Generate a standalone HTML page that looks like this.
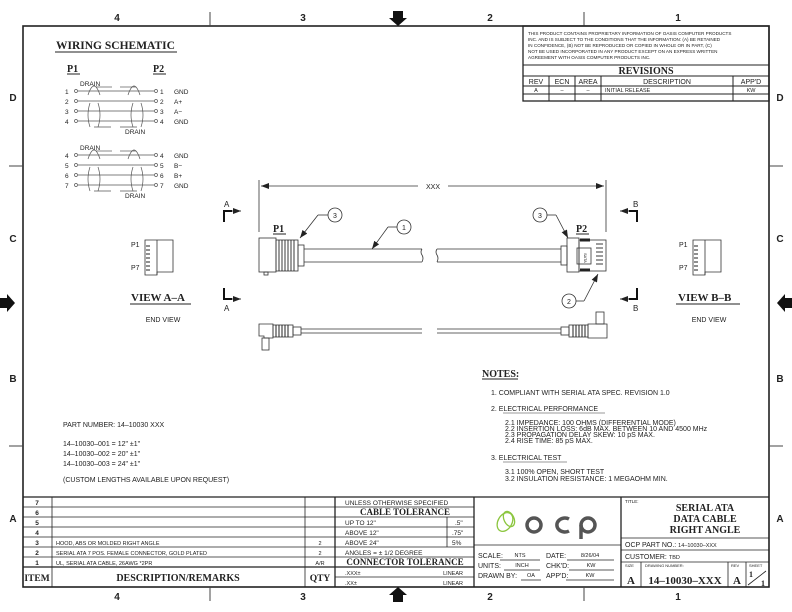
<!DOCTYPE html>
<html><head><meta charset="utf-8"><style>
html,body{margin:0;padding:0;background:#fff}
svg{display:block}
text{font-family:"Liberation Sans",sans-serif;fill:#222}
.s,.s text{font-family:"Liberation Serif",serif;font-weight:bold}
</style></head><body>
<svg width="792" height="612" viewBox="0 0 792 612" xmlns="http://www.w3.org/2000/svg">
<defs>
<marker id="ar" markerWidth="8" markerHeight="6" refX="8" refY="3" orient="auto" markerUnits="userSpaceOnUse"><path d="M0,0 L8,3 L0,6z" fill="#222"/></marker>
</defs>
<rect width="792" height="612" fill="#fff"/>
<rect x="23" y="26" width="746" height="561" fill="none" stroke="#222" stroke-width="1.6"/>
<g stroke="#444" stroke-width="1">
<line x1="210" y1="12" x2="210" y2="26"/><line x1="584" y1="12" x2="584" y2="26"/>
<line x1="210" y1="587" x2="210" y2="601"/><line x1="584" y1="587" x2="584" y2="601"/>
<line x1="9" y1="166" x2="23" y2="166"/><line x1="9" y1="446" x2="23" y2="446"/>
<line x1="769" y1="166" x2="783" y2="166"/><line x1="769" y1="446" x2="783" y2="446"/>
</g>
<g font-size="10" font-weight="bold" text-anchor="middle">
<text x="117" y="21">4</text><text x="303" y="21">3</text><text x="490" y="21">2</text><text x="678" y="21">1</text>
<text x="117" y="600">4</text><text x="303" y="600">3</text><text x="490" y="600">2</text><text x="678" y="600">1</text>
<text x="13" y="101">D</text><text x="13" y="242">C</text><text x="13" y="382">B</text><text x="13" y="522">A</text>
<text x="780" y="101">D</text><text x="780" y="242">C</text><text x="780" y="382">B</text><text x="780" y="522">A</text>
</g>
<path d="M393,11h10v7h4l-9,8l-9,-8h4z" fill="#111"/>
<path d="M393,602h10v-7h4l-9,-8l-9,8h4z" fill="#111"/>
<path d="M0,298v10h7v4l8,-9l-8,-9v4z" fill="#111"/>
<path d="M792,298v10h-7v4l-8,-9l8,-9v4z" fill="#111"/>

<text x="56" y="49" class="s" font-size="11.5">WIRING  SCHEMATIC</text>
<line x1="55" y1="52" x2="177" y2="52" stroke="#222"/>
<text x="67" y="72" class="s" font-size="10">P1</text><line x1="67" y1="74" x2="80" y2="74" stroke="#222"/>
<text x="153" y="72" class="s" font-size="10">P2</text><line x1="153" y1="74" x2="166" y2="74" stroke="#222"/>
<g font-size="6.5" fill="#222">
<g>
<g stroke="#555" stroke-width="0.7" fill="none">
<line x1="78" y1="91" x2="154" y2="91"/><line x1="78" y1="101" x2="154" y2="101"/><line x1="78" y1="111" x2="154" y2="111"/><line x1="78" y1="121" x2="154" y2="121"/>
<circle cx="76" cy="91" r="1.5"/><circle cx="76" cy="101" r="1.5"/><circle cx="76" cy="111" r="1.5"/><circle cx="76" cy="121" r="1.5"/>
<circle cx="156" cy="91" r="1.5"/><circle cx="156" cy="101" r="1.5"/><circle cx="156" cy="111" r="1.5"/><circle cx="156" cy="121" r="1.5"/>
<path d="M88,95 Q94,77 100,95 M128,95 Q134,77 140,95"/>
<path d="M90,103 Q86,115 90,127 M98,103 Q102,115 98,127 M133,103 Q129,115 133,127 M141,103 Q145,115 141,127"/>
<line x1="96" y1="87" x2="112" y2="87"/><line x1="120" y1="87" x2="136" y2="87"/>
<line x1="94" y1="127" x2="111" y2="127"/><line x1="120" y1="127" x2="137" y2="127"/>
</g>
</g>
<g transform="translate(0,64)">
<g stroke="#555" stroke-width="0.7" fill="none">
<line x1="78" y1="91" x2="154" y2="91"/><line x1="78" y1="101" x2="154" y2="101"/><line x1="78" y1="111" x2="154" y2="111"/><line x1="78" y1="121" x2="154" y2="121"/>
<circle cx="76" cy="91" r="1.5"/><circle cx="76" cy="101" r="1.5"/><circle cx="76" cy="111" r="1.5"/><circle cx="76" cy="121" r="1.5"/>
<circle cx="156" cy="91" r="1.5"/><circle cx="156" cy="101" r="1.5"/><circle cx="156" cy="111" r="1.5"/><circle cx="156" cy="121" r="1.5"/>
<path d="M88,95 Q94,77 100,95 M128,95 Q134,77 140,95"/>
<path d="M90,103 Q86,115 90,127 M98,103 Q102,115 98,127 M133,103 Q129,115 133,127 M141,103 Q145,115 141,127"/>
<line x1="96" y1="87" x2="112" y2="87"/><line x1="120" y1="87" x2="136" y2="87"/>
<line x1="94" y1="127" x2="111" y2="127"/><line x1="120" y1="127" x2="137" y2="127"/>
</g>
</g>
<text x="80" y="86">DRAIN</text><text x="125" y="134">DRAIN</text>
<text x="80" y="150">DRAIN</text><text x="125" y="198">DRAIN</text>
<text x="65" y="94">1</text><text x="65" y="104">2</text><text x="65" y="114">3</text><text x="65" y="124">4</text>
<text x="160" y="94">1</text><text x="160" y="104">2</text><text x="160" y="114">3</text><text x="160" y="124">4</text>
<text x="174" y="94">GND</text><text x="174" y="104">A+</text><text x="174" y="114">A−</text><text x="174" y="124">GND</text>
<text x="65" y="158">4</text><text x="65" y="168">5</text><text x="65" y="178">6</text><text x="65" y="188">7</text>
<text x="160" y="158">4</text><text x="160" y="168">5</text><text x="160" y="178">6</text><text x="160" y="188">7</text>
<text x="174" y="158">GND</text><text x="174" y="168">B−</text><text x="174" y="178">B+</text><text x="174" y="188">GND</text>
</g>

<g stroke="#222" fill="none">
<rect x="523" y="26" width="246" height="75" stroke-width="1.3"/>
<line x1="523" y1="65" x2="769" y2="65"/><line x1="523" y1="76" x2="769" y2="76"/><line x1="523" y1="86" x2="769" y2="86"/><line x1="523" y1="94" x2="769" y2="94"/>
<line x1="549" y1="76" x2="549" y2="101"/><line x1="575" y1="76" x2="575" y2="101"/><line x1="601" y1="76" x2="601" y2="101"/><line x1="733" y1="76" x2="733" y2="101"/>
</g>
<g font-size="4.6">
<text x="528" y="35">THIS PRODUCT CONTAINS PROPRIETARY INFORMATION OF OASIS COMPUTER PRODUCTS</text>
<text x="528" y="41">INC. AND IS SUBJECT TO THE CONDITIONS THAT THE INFORMATION: (A) BE RETAINED</text>
<text x="528" y="47">IN CONFIDENCE, (B) NOT BE REPRODUCED OR COPIED IN WHOLE OR IN PART, (C)</text>
<text x="528" y="53">NOT BE USED INCORPORATED IN ANY PRODUCT EXCEPT ON AN EXPRESS WRITTEN</text>
<text x="528" y="59">AGREEMENT WITH OASIS COMPUTER PRODUCTS INC.</text>
</g>
<text x="646" y="74" class="s" font-size="10" text-anchor="middle">REVISIONS</text>
<g font-size="7" text-anchor="middle">
<text x="536" y="84">REV</text><text x="562" y="84">ECN</text><text x="588" y="84">AREA</text><text x="667" y="84">DESCRIPTION</text><text x="751" y="84">APP'D</text>
</g>
<g font-size="5.5" text-anchor="middle"><text x="536" y="92">A</text><text x="562" y="92">–</text><text x="588" y="92">–</text><text x="751" y="92">KW</text></g>
<text x="605" y="92" font-size="5.5">INITIAL RELEASE</text>

<g stroke="#333" stroke-width="0.8" fill="none">
<line x1="259" y1="180" x2="259" y2="232"/><line x1="606" y1="180" x2="606" y2="232"/>
<line x1="418" y1="186" x2="261" y2="186" marker-end="url(#ar)"/>
<line x1="448" y1="186" x2="604" y2="186" marker-end="url(#ar)"/>
</g>
<text x="433" y="189" font-size="7" text-anchor="middle">XXX</text>

<g stroke="#111" stroke-width="2" fill="none">
<path d="M224,222 V211 H232"/><path d="M224,288 V299 H232"/>
<path d="M637,222 V211 H629"/><path d="M637,288 V299 H629"/>
</g>
<g stroke="#111" stroke-width="0.8"><line x1="231" y1="211" x2="241" y2="211" marker-end="url(#ar)"/><line x1="231" y1="299" x2="241" y2="299" marker-end="url(#ar)"/>
<line x1="630" y1="211" x2="620" y2="211" marker-end="url(#ar)"/><line x1="630" y1="299" x2="620" y2="299" marker-end="url(#ar)"/></g>
<g font-size="8"><text x="224" y="207">A</text><text x="224" y="311">A</text><text x="633" y="207">B</text><text x="633" y="311">B</text></g>

<text x="273" y="232" class="s" font-size="10">P1</text><line x1="273" y1="234" x2="286" y2="234" stroke="#222"/>
<g stroke="#333" stroke-width="0.8" fill="none">
<rect x="259" y="238" width="17" height="34"/>
<rect x="276" y="240" width="22" height="31"/>
<rect x="298" y="245" width="6" height="21"/>
<rect x="264" y="272" width="4" height="3"/>
<line x1="304" y1="249" x2="422" y2="249"/><line x1="304" y1="262" x2="422" y2="262"/>
<path d="M422,249 q-2,3 0,6 q2,3 0,7"/><path d="M437,249 q-2,3 0,6 q2,3 0,7"/>
<line x1="437" y1="249" x2="561" y2="249"/><line x1="437" y1="262" x2="561" y2="262"/>
<rect x="561" y="246" width="6" height="19"/>
<rect x="567" y="238" width="12" height="34"/>
<rect x="579" y="240" width="27" height="31"/>
<rect x="577" y="248" width="14" height="16"/>
<circle cx="335" cy="215" r="7"/><circle cx="404" cy="227" r="7"/><circle cx="540" cy="215" r="7"/><circle cx="569" cy="301" r="7"/>
<line x1="328" y1="215" x2="318" y2="215"/><line x1="318" y1="215" x2="300" y2="238" marker-end="url(#ar)"/>
<line x1="397" y1="227" x2="388" y2="227"/><line x1="388" y1="227" x2="372" y2="249" marker-end="url(#ar)"/>
<line x1="547" y1="215" x2="556" y2="215"/><line x1="556" y1="215" x2="568" y2="238" marker-end="url(#ar)"/>
<line x1="576" y1="301" x2="584" y2="301"/><line x1="584" y1="301" x2="598" y2="274" marker-end="url(#ar)"/>
</g>
<g stroke="#222" stroke-width="0.9">
<line x1="279" y1="240" x2="279" y2="271"/><line x1="282" y1="240" x2="282" y2="271"/><line x1="285" y1="240" x2="285" y2="271"/><line x1="288" y1="240" x2="288" y2="271"/><line x1="291" y1="240" x2="291" y2="271"/><line x1="294" y1="240" x2="294" y2="271"/>
<line x1="580" y1="240" x2="590" y2="240" stroke-width="3"/><line x1="580" y1="270" x2="590" y2="270" stroke-width="3"/>
<line x1="596" y1="244" x2="603" y2="244"/><line x1="596" y1="248" x2="603" y2="248"/><line x1="596" y1="252" x2="603" y2="252"/><line x1="596" y1="256" x2="603" y2="256"/><line x1="596" y1="260" x2="603" y2="260"/><line x1="596" y1="264" x2="603" y2="264"/>
</g>
<text x="584" y="253" font-size="4" transform="rotate(90 584 253)">SATA</text>
<g font-size="7" text-anchor="middle"><text x="335" y="218">3</text><text x="404" y="230">1</text><text x="540" y="218">3</text><text x="569" y="304">2</text></g>
<text x="576" y="232" class="s" font-size="10">P2</text><line x1="576" y1="234" x2="589" y2="234" stroke="#222"/>

<g stroke="#333" stroke-width="0.8" fill="none">
<path d="M259,324 h14 v14 h-9 v-2 h-5z"/>
<rect x="262" y="338" width="7" height="12"/>
<rect x="273" y="325" width="20" height="12"/>
<rect x="293" y="327" width="8" height="8"/>
<line x1="301" y1="329" x2="422" y2="329"/><line x1="301" y1="333" x2="422" y2="333"/>
<line x1="437" y1="329" x2="561" y2="329"/><line x1="437" y1="333" x2="561" y2="333"/>
<rect x="561" y="327" width="8" height="8"/>
<rect x="569" y="325" width="19" height="12"/>
<path d="M588,324 h19 v14 h-19z"/>
<rect x="596" y="312" width="8" height="12"/>
</g>
<g stroke="#222"><line x1="276" y1="325" x2="276" y2="337"/><line x1="279" y1="325" x2="279" y2="337"/><line x1="282" y1="325" x2="282" y2="337"/><line x1="285" y1="325" x2="285" y2="337"/><line x1="288" y1="325" x2="288" y2="337"/>
<line x1="573" y1="325" x2="573" y2="337"/><line x1="576" y1="325" x2="576" y2="337"/><line x1="579" y1="325" x2="579" y2="337"/><line x1="582" y1="325" x2="582" y2="337"/><line x1="585" y1="325" x2="585" y2="337"/></g>

<g stroke="#333" stroke-width="0.8" fill="none">
<path d="M145,240 h28 v32 h-16 v3 h-12z"/><line x1="157" y1="240" x2="157" y2="275"/>
<path d="M693,240 h28 v32 h-16 v3 h-12z"/><line x1="705" y1="240" x2="705" y2="275"/>
</g>
<g stroke="#222"><line x1="146" y1="246" x2="150" y2="246"/><line x1="146" y1="250" x2="150" y2="250"/><line x1="146" y1="254" x2="150" y2="254"/><line x1="146" y1="258" x2="150" y2="258"/><line x1="146" y1="262" x2="150" y2="262"/><line x1="146" y1="266" x2="150" y2="266"/><line x1="146" y1="270" x2="150" y2="270"/>
<line x1="694" y1="246" x2="698" y2="246"/><line x1="694" y1="250" x2="698" y2="250"/><line x1="694" y1="254" x2="698" y2="254"/><line x1="694" y1="258" x2="698" y2="258"/><line x1="694" y1="262" x2="698" y2="262"/><line x1="694" y1="266" x2="698" y2="266"/><line x1="694" y1="270" x2="698" y2="270"/></g>
<g font-size="7"><text x="131" y="247">P1</text><text x="131" y="270">P7</text><text x="679" y="247">P1</text><text x="679" y="270">P7</text>
<text x="163" y="322" text-anchor="middle">END VIEW</text><text x="709" y="322" text-anchor="middle">END VIEW</text></g>
<text x="131" y="301" class="s" font-size="11">VIEW  A–A</text><line x1="130" y1="304" x2="191" y2="304" stroke="#222"/>
<text x="678" y="301" class="s" font-size="11">VIEW  B–B</text><line x1="676" y1="304" x2="740" y2="304" stroke="#222"/>

<g font-size="7">
<text x="63" y="427">PART NUMBER:  14–10030 XXX</text>
<text x="63" y="446">14–10030–001 = 12" ±1"</text>
<text x="63" y="456">14–10030–002 = 20" ±1"</text>
<text x="63" y="466">14–10030–003 = 24" ±1"</text>
<text x="63" y="482">(CUSTOM LENGTHS AVAILABLE UPON REQUEST)</text>
</g>

<text x="482" y="377" class="s" font-size="10">NOTES:</text><line x1="482" y1="379" x2="518" y2="379" stroke="#222"/>
<g font-size="7">
<text x="491" y="395">1.  COMPLIANT WITH SERIAL ATA SPEC. REVISION 1.0</text>
<text x="491" y="411">2.  ELECTRICAL PERFORMANCE</text><line x1="503" y1="413" x2="605" y2="413" stroke="#333" stroke-width="0.6"/>
<text x="505" y="425">2.1   IMPEDANCE: 100 OHMS (DIFFERENTIAL MODE)</text>
<text x="505" y="431">2.2   INSERTION LOSS: 6dB MAX. BETWEEN 10 AND 4500 MHz</text>
<text x="505" y="437">2.3   PROPAGATION DELAY SKEW: 10 pS MAX.</text>
<text x="505" y="443">2.4   RISE TIME: 85 pS MAX.</text>
<text x="491" y="460">3.  ELECTRICAL TEST</text><line x1="503" y1="462" x2="567" y2="462" stroke="#333" stroke-width="0.6"/>
<text x="505" y="474">3.1   100% OPEN, SHORT TEST</text>
<text x="505" y="481">3.2   INSULATION RESISTANCE: 1 MEGAOHM MIN.</text>
</g>

<g stroke="#222" fill="none" stroke-width="0.8">
<line x1="23" y1="497" x2="769" y2="497" stroke-width="1.3"/>
<line x1="23" y1="507" x2="335" y2="507"/><line x1="23" y1="517" x2="335" y2="517"/><line x1="23" y1="527" x2="335" y2="527"/><line x1="23" y1="537" x2="335" y2="537"/><line x1="23" y1="547" x2="335" y2="547"/><line x1="23" y1="557" x2="335" y2="557"/>
<line x1="23" y1="567" x2="474" y2="567" stroke-width="1.3"/>
<line x1="52" y1="497" x2="52" y2="587"/><line x1="305" y1="497" x2="305" y2="587"/>
<line x1="335" y1="497" x2="335" y2="587" stroke-width="1.3"/>
<line x1="474" y1="497" x2="474" y2="587" stroke-width="1.3"/>
<line x1="335" y1="507" x2="474" y2="507"/><line x1="335" y1="517" x2="474" y2="517"/><line x1="335" y1="527" x2="474" y2="527"/><line x1="335" y1="537" x2="474" y2="537"/><line x1="335" y1="547" x2="474" y2="547"/><line x1="335" y1="557" x2="474" y2="557"/><line x1="335" y1="577" x2="474" y2="577"/>
<line x1="447" y1="517" x2="447" y2="547"/>
<line x1="621" y1="497" x2="621" y2="587" stroke-width="1.3"/>
<line x1="474" y1="545" x2="621" y2="545"/>
<line x1="621" y1="538" x2="769" y2="538"/><line x1="621" y1="550" x2="769" y2="550"/><line x1="621" y1="562" x2="769" y2="562"/>
<line x1="641" y1="562" x2="641" y2="587"/><line x1="728" y1="562" x2="728" y2="587"/><line x1="746" y1="562" x2="746" y2="587"/>
<line x1="748" y1="585" x2="766" y2="571"/>
<line x1="500" y1="560" x2="540" y2="560"/><line x1="567" y1="560" x2="614" y2="560"/>
<line x1="504" y1="570" x2="540" y2="570"/><line x1="569" y1="570" x2="614" y2="570"/>
<line x1="521" y1="580" x2="541" y2="580"/><line x1="566" y1="580" x2="614" y2="580"/>
</g>
<g font-size="6.5" font-weight="bold" text-anchor="middle">
<text x="37" y="505">7</text><text x="37" y="515">6</text><text x="37" y="525">5</text><text x="37" y="535">4</text><text x="37" y="545">3</text><text x="37" y="555">2</text><text x="37" y="565">1</text>
</g>
<g font-size="5.5"><text x="56" y="545">HOOD, ABS OR MOLDED RIGHT ANGLE</text><text x="56" y="555">SERIAL ATA 7 POS. FEMALE CONNECTOR, GOLD PLATED</text><text x="56" y="565">UL, SERIAL ATA CABLE, 26AWG *2PR</text>
<text x="320" y="545" text-anchor="middle">2</text><text x="320" y="555" text-anchor="middle">2</text><text x="320" y="565" text-anchor="middle">A/R</text></g>
<text x="37" y="581" class="s" font-size="9.5" text-anchor="middle">ITEM</text>
<text x="178" y="581" class="s" font-size="10" text-anchor="middle">DESCRIPTION/REMARKS</text>
<text x="320" y="581" class="s" font-size="9.5" text-anchor="middle">QTY</text>
<g font-size="6.5"><text x="345" y="505">UNLESS OTHERWISE SPECIFIED</text>
<text x="345" y="525">UP TO 12"</text><text x="345" y="535">ABOVE 12"</text><text x="345" y="545">ABOVE 24"</text><text x="345" y="555">ANGLES = ± 1/2 DEGREE</text>
<text x="455" y="525">.5"</text><text x="452" y="535">.75"</text><text x="452" y="545">5%</text></g>
<text x="405" y="515" class="s" font-size="9" text-anchor="middle">CABLE  TOLERANCE</text>
<text x="405" y="565" class="s" font-size="9" text-anchor="middle">CONNECTOR  TOLERANCE</text>
<g font-size="5.5"><text x="345" y="575">.XXX±</text><text x="345" y="585">.XX±</text><text x="463" y="575" text-anchor="end">LINEAR</text><text x="463" y="585" text-anchor="end">LINEAR</text></g>

<g fill="none" stroke="#8cc63f" stroke-width="1.3"><ellipse cx="505" cy="522" rx="7" ry="10" transform="rotate(30 505 522)"/><ellipse cx="509" cy="519" rx="5" ry="8" transform="rotate(-25 509 519)"/></g>
<g fill="none" stroke="#555" stroke-width="3.5"><circle cx="534" cy="525" r="7"/><path d="M569,519 A8,7 0 1 0 569,531"/><circle cx="588" cy="525" r="7"/><line x1="581" y1="525" x2="581" y2="539"/></g>
<g font-size="7"><text x="478" y="558">SCALE:</text><text x="546" y="558">DATE:</text><text x="478" y="568">UNITS:</text><text x="546" y="568">CHK'D:</text><text x="478" y="578">DRAWN BY:</text><text x="546" y="578">APP'D:</text></g>
<g font-size="5.5" text-anchor="middle"><text x="520" y="557">NTS</text><text x="590" y="557">8/26/04</text><text x="522" y="567">INCH</text><text x="591" y="567">KW</text><text x="531" y="577">OA</text><text x="590" y="577">KW</text></g>

<text x="625" y="503" font-size="4.5">TITLE:</text>
<g class="s" font-size="10" text-anchor="middle"><text x="705" y="511">SERIAL ATA</text><text x="705" y="522">DATA CABLE</text><text x="705" y="533">RIGHT ANGLE</text></g>
<text x="625" y="547" font-size="7">OCP PART NO.: <tspan font-size="5.5">14–10030–XXX</tspan></text>
<text x="625" y="559" font-size="7">CUSTOMER: <tspan font-size="5.5">TBD</tspan></text>
<g font-size="4"><text x="625" y="567">SIZE</text><text x="645" y="567">DRAWING NUMBER:</text><text x="731" y="567">REV</text><text x="749" y="567">SHEET</text></g>
<g class="s" font-size="11" text-anchor="middle"><text x="631" y="584">A</text><text x="685" y="584">14–10030–XXX</text><text x="737" y="584">A</text></g>
<g class="s" font-size="8"><text x="749" y="577">1</text><text x="761" y="586">1</text></g>
</svg>
</body></html>
